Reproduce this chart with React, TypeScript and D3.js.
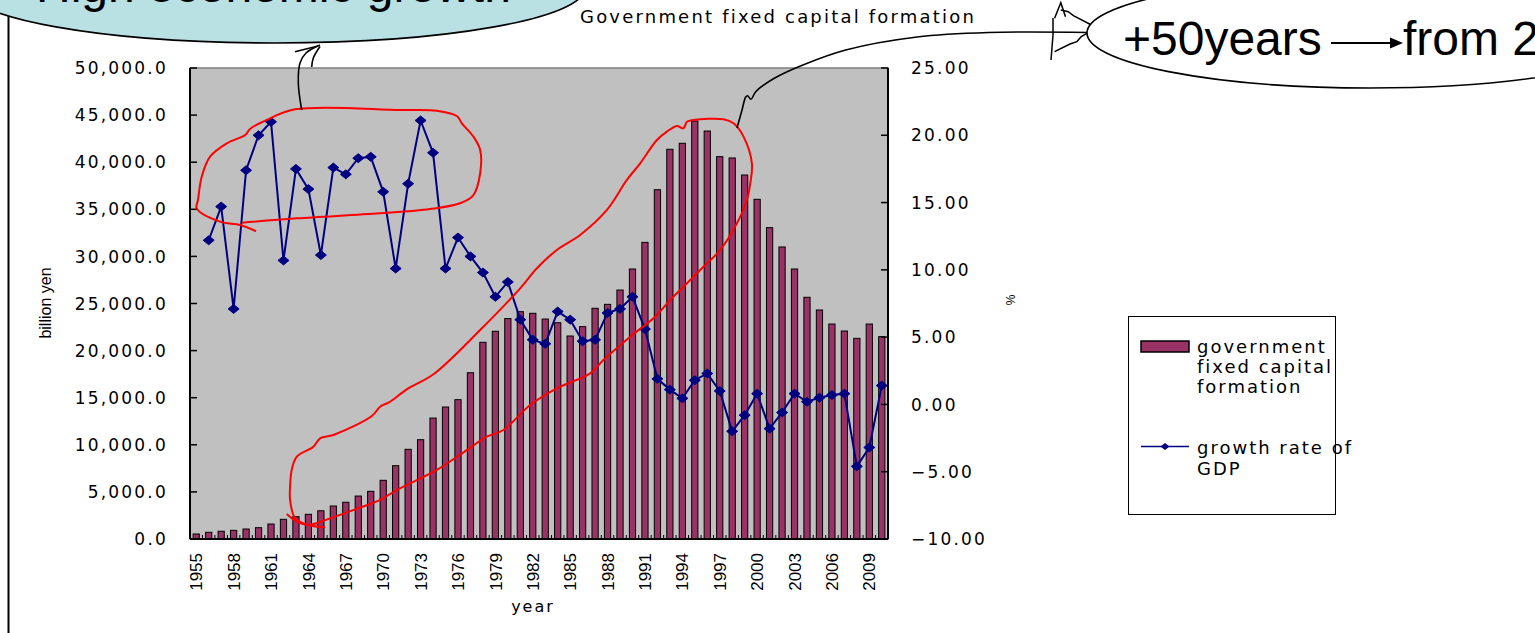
import React from 'react';
import * as d3 from 'd3';

// ---------------- data ----------------
const YEARS = [
  1955, 1956, 1957, 1958, 1959, 1960, 1961, 1962, 1963, 1964,
  1965, 1966, 1967, 1968, 1969, 1970, 1971, 1972, 1973, 1974,
  1975, 1976, 1977, 1978, 1979, 1980, 1981, 1982, 1983, 1984,
  1985, 1986, 1987, 1988, 1989, 1990, 1991, 1992, 1993, 1994,
  1995, 1996, 1997, 1998, 1999, 2000, 2001, 2002, 2003, 2004,
  2005, 2006, 2007, 2008, 2009, 2010,
];

// government fixed capital formation, billion yen
const GOV_FIXED_CAPITAL = [
  530, 710, 820, 920, 1060, 1200, 1590, 2090, 2370, 2620,
  3000, 3500, 3900, 4560, 5060, 6230, 7780, 9520, 10540, 12840,
  14010, 14790, 17650, 20880, 22050, 23400, 24130, 23960, 23350, 22960,
  21550, 22540, 24490, 24910, 26430, 28660, 31490, 37080, 41370, 42010,
  44370, 43310, 40590, 40450, 38640, 36060, 33050, 31000, 28660, 25660,
  24310, 22820, 22080, 21300, 22820, 21480,
];

// growth rate of GDP, %
const GDP_GROWTH: (number | null)[] = [
  null, 12.2, 14.7, 7.1, 17.4, 20.0, 21.0, 10.7, 17.5, 16.0,
  11.1, 17.6, 17.1, 18.3, 18.4, 15.8, 10.1, 16.4, 21.1, 18.7,
  10.1, 12.4, 11.0, 9.8, 8.0, 9.1, 6.3, 4.8, 4.5, 6.9,
  6.3, 4.7, 4.8, 6.8, 7.1, 8.0, 5.6, 1.9, 1.1, 0.45,
  1.8, 2.3, 1.0, -2.0, -0.8, 0.8, -1.8, -0.6, 0.8, 0.2,
  0.5, 0.7, 0.8, -4.6, -3.2, 1.4,
];

const LEFT_TICKS = [0, 5000, 10000, 15000, 20000, 25000, 30000, 35000, 40000, 45000, 50000];
const RIGHT_TICKS = [-10, -5, 0, 5, 10, 15, 20, 25];
const LABELED_YEARS = [1955, 1958, 1961, 1964, 1967, 1970, 1973, 1976, 1979, 1982, 1985, 1988, 1991, 1994, 1997, 2000, 2003, 2006, 2009];

const TITLE = 'Government fixed capital formation';
const LEGEND_BAR_LINES = ['government', 'fixed capital', 'formation'];
const LEGEND_LINE_LINES = ['growth rate of', 'GDP'];

// hand-drawn red outlines, in data coordinates [year, % on right axis]
const LOOP_HIGH_GROWTH: [number, number][] = [
  [1958.65, 13.5], [1963.07, 13.83], [1969.75, 14.2], [1973.76, 14.52], [1976.17, 14.95],
  [1977.24, 15.56], [1977.78, 17.18], [1977.78, 18.91], [1977.24, 19.9], [1976.31, 20.89],
  [1975.91, 21.43], [1974.3, 21.83], [1971.36, 21.88], [1962.93, 21.93], [1960.66, 21.14],
  [1959.32, 20.47], [1958.92, 20.02], [1957.45, 19.4], [1956.11, 18.41], [1955.44, 16.92],
  [1955.14, 15.19], [1955.04, 14.57], [1956.91, 13.58], [1958.52, 13.33], [1959.8, 12.87],
];
const LOOP_PUBLIC_WORKS: [number, number][] = [
  [1965.34, -9.13], [1964.0, -8.96], [1962.93, -8.44], [1962.53, -7.1], [1962.53, -6.11],
  [1962.66, -4.87], [1963.07, -3.88], [1964.4, -3.14], [1964.94, -2.52], [1966.0, -2.27],
  [1969.09, -0.86], [1969.75, -0.17], [1970.55, 0.2], [1971.89, 1.12], [1974.03, 2.24],
  [1977.78, 5.53], [1980.99, 8.63], [1982.33, 10.12], [1983.93, 11.48], [1985.8, 12.59],
  [1987.95, 14.45], [1989.55, 16.68], [1990.62, 17.92], [1991.96, 19.65], [1992.76, 20.27],
  [1993.56, 20.69], [1994.09, 20.52], [1994.37, 21.01], [1994.9, 21.14], [1997.3, 21.19],
  [1998.11, 20.89], [1998.91, 19.9], [1999.58, 17.92], [1999.45, 16.43], [1999.18, 15.19],
  [1998.38, 13.46], [1997.04, 11.48], [1995.7, 10.23], [1994.09, 8.75], [1993.03, 7.76],
  [1991.82, 6.52], [1989.82, 5.03], [1987.67, 3.3], [1986.61, 2.31], [1983.93, 1.2],
  [1981.79, -0.04], [1979.65, -1.9], [1978.31, -2.4], [1976.71, -3.39], [1974.3, -4.87],
  [1971.09, -6.36], [1969.75, -7.1], [1967.61, -7.85], [1965.2, -8.64], [1964.0, -8.96],
  [1963.07, -8.71], [1962.26, -8.14],
];

// black hand-drawn callout strokes (page layout, px)
const TAIL_LEFT_A: [number, number][] = [[301.7, 110], [298.3, 83], [300, 63], [306, 53], [320, 45]];
const TAIL_LEFT_B: [number, number][] = [[311.7, 67], [313.3, 58], [320, 46.5]];
const TAIL_LEFT_TICK: [number, number][] = [[295, 51.7], [318, 46]];
const TAIL_RIGHT: [number, number][] = [
  [737, 128], [742, 110], [745.7, 97], [747.5, 95.7], [751, 99.3], [755.7, 91.7],
  [774.3, 78.3], [802.9, 65], [845.7, 50], [917, 37], [988.6, 32.5], [1088.6, 32.5],
];
const SKETCH_STROKES: [number, number][][] = [
  [[1051, 60], [1053, 35], [1053, 18]],
  [[1054.6, 18.3], [1060.8, 2.7], [1065.5, 16.7]],
  [[1060.8, 10], [1068.3, 11.7], [1073.4, 15.7], [1091.5, 25]],
  [[1054.6, 51.7], [1070, 44], [1076.8, 41.7], [1081.2, 36.7], [1088.7, 32.3]],
];

// ---------------- layout ----------------
const W = 1535;
const H = 633;
const PLOT = { left: 190, right: 888, top: 68, bottom: 539 };
const GOTHIC = "'DejaVu Sans', sans-serif";
const ARIAL = "'Liberation Sans', Arial, sans-serif";
const BAR_FILL = '#993366';
const LINE_COLOR = '#000080';
const PLOT_BG = '#c0c0c0';

const diamond = (hw: number, hh: number) => `M0,${-hh}L${hw},0L0,${hh}L${-hw},0Z`;

export default function App() {
  const x = d3.scaleBand<number>().domain(YEARS).range([PLOT.left, PLOT.right]).padding(0);
  const bw = x.bandwidth();
  const xYear = d3
    .scaleLinear()
    .domain([YEARS[0], YEARS[YEARS.length - 1]])
    .range([(x(YEARS[0]) as number) + bw / 2, (x(YEARS[YEARS.length - 1]) as number) + bw / 2]);
  const yLeft = d3.scaleLinear().domain([0, 50000]).range([PLOT.bottom, PLOT.top]);
  const yRight = d3.scaleLinear().domain([-10, 25]).range([PLOT.bottom, PLOT.top]);

  const fmtLeft = d3.format(',.1f');
  const fmtRight = d3.format('.2f');

  const gdpPoints = YEARS.map((yr, i) => ({ yr, v: GDP_GROWTH[i] }));
  const gdpLine = d3
    .line<{ yr: number; v: number | null }>()
    .defined((d) => d.v != null)
    .x((d) => (x(d.yr) as number) + bw / 2)
    .y((d) => yRight(d.v as number));

  const loopLine = d3
    .line<[number, number]>()
    .x((d) => xYear(d[0]))
    .y((d) => yRight(d[1]))
    .curve(d3.curveCatmullRom.alpha(0.5));

  const pxLine = d3
    .line<[number, number]>()
    .x((d) => d[0])
    .y((d) => d[1])
    .curve(d3.curveCatmullRom.alpha(0.5));
  const pxPoly = d3.line<[number, number]>().x((d) => d[0]).y((d) => d[1]);

  const barW = bw * 0.5;

  return (
    <svg
      width={W}
      height={H}
      viewBox={`0 0 ${W} ${H}`}
      style={{ position: 'absolute', left: 0, top: 0, display: 'block', background: '#fff' }}
    >
      <rect x={0} y={0} width={W} height={H} fill="#fff" />

      {/* outer frame left edge */}
      <line x1={8.5} y1={5} x2={8.5} y2={H} stroke="#000" strokeWidth={2} />

      {/* left speech bubble */}
      <path d={pxLine(TAIL_LEFT_B) as string} fill="none" stroke="#000" strokeWidth={1.6} />
      <ellipse cx={275} cy={-12} rx={310} ry={55} fill="#b9e0e3" stroke="#000" strokeWidth={1.6} />
      <text x={36} y={2} fontFamily={ARIAL} fontSize={48} fill="#000">
        High economic growth
      </text>

      {/* title */}
      <text x={580} y={23} fontFamily={GOTHIC} fontSize={18} letterSpacing={2.2} fill="#000">
        {TITLE}
      </text>

      {/* plot area */}
      <rect
        x={PLOT.left}
        y={PLOT.top}
        width={PLOT.right - PLOT.left}
        height={PLOT.bottom - PLOT.top}
        fill={PLOT_BG}
        stroke="#808080"
        strokeWidth={1.5}
      />

      {/* bars */}
      {YEARS.map((yr, i) => {
        const cx = (x(yr) as number) + bw / 2;
        const y0 = yLeft(GOV_FIXED_CAPITAL[i]);
        return (
          <rect
            key={yr}
            x={cx - barW / 2}
            y={y0}
            width={barW}
            height={PLOT.bottom - y0}
            fill={BAR_FILL}
            stroke="#000"
            strokeWidth={1}
          />
        );
      })}

      {/* axes */}
      <line x1={PLOT.left} y1={PLOT.top} x2={PLOT.left} y2={PLOT.bottom} stroke="#000" strokeWidth={2} />
      <line x1={PLOT.right} y1={PLOT.top} x2={PLOT.right} y2={PLOT.bottom} stroke="#000" strokeWidth={2} />
      <line x1={PLOT.left} y1={PLOT.bottom} x2={PLOT.right} y2={PLOT.bottom} stroke="#000" strokeWidth={2} />
      {LEFT_TICKS.map((t) => (
        <line key={'lt' + t} x1={PLOT.left} x2={PLOT.left + 7} y1={yLeft(t)} y2={yLeft(t)} stroke="#000" strokeWidth={1.5} />
      ))}
      {RIGHT_TICKS.map((t) => (
        <line key={'rt' + t} x1={PLOT.right - 7} x2={PLOT.right} y1={yRight(t)} y2={yRight(t)} stroke="#000" strokeWidth={1.5} />
      ))}
      {YEARS.map((yr) => (
        <line
          key={'xt' + yr}
          x1={x(yr) as number}
          x2={x(yr) as number}
          y1={PLOT.bottom - 4}
          y2={PLOT.bottom}
          stroke="#000"
          strokeWidth={1}
        />
      ))}

      {/* tick labels */}
      {LEFT_TICKS.map((t) => (
        <text
          key={'ll' + t}
          x={168}
          y={yLeft(t)}
          dy="0.36em"
          textAnchor="end"
          fontFamily={GOTHIC}
          fontSize={17}
          letterSpacing={2.2}
          fill="#000"
        >
          {fmtLeft(t)}
        </text>
      ))}
      {RIGHT_TICKS.map((t) => (
        <text
          key={'rl' + t}
          x={911}
          y={yRight(t)}
          dy="0.36em"
          textAnchor="start"
          fontFamily={GOTHIC}
          fontSize={17}
          letterSpacing={2.2}
          fill="#000"
        >
          {fmtRight(t)}
        </text>
      ))}
      {LABELED_YEARS.map((yr) => (
        <text
          key={'xl' + yr}
          transform={`translate(${(x(yr) as number) + bw / 2},${553}) rotate(-90)`}
          dy="0.36em"
          textAnchor="end"
          fontFamily={ARIAL}
          fontSize={17}
          fill="#000"
        >
          {yr}
        </text>
      ))}

      {/* axis titles */}
      <text transform="translate(45,303) rotate(-90)" dy="0.36em" textAnchor="middle" fontFamily={ARIAL} fontSize={16} fill="#000">
        billion yen
      </text>
      <text transform="translate(1011,300) rotate(-90)" dy="0.36em" textAnchor="middle" fontFamily={ARIAL} fontSize={12} fill="#000">
        %
      </text>
      <text x={533} y={612} textAnchor="middle" fontFamily={GOTHIC} fontSize={16} letterSpacing={2} fill="#000">
        year
      </text>

      {/* GDP growth line */}
      <path d={gdpLine(gdpPoints) as string} fill="none" stroke={LINE_COLOR} strokeWidth={2} />
      {gdpPoints
        .filter((d) => d.v != null)
        .map((d) => (
          <path
            key={'m' + d.yr}
            d={diamond(5.5, 4.5)}
            transform={`translate(${(x(d.yr) as number) + bw / 2},${yRight(d.v as number)})`}
            fill={LINE_COLOR}
            stroke={LINE_COLOR}
            strokeWidth={1}
          />
        ))}

      {/* red hand-drawn outlines */}
      <path d={loopLine(LOOP_HIGH_GROWTH) as string} fill="none" stroke="#ff0000" strokeWidth={2} />
      <path d={loopLine(LOOP_PUBLIC_WORKS) as string} fill="none" stroke="#ff0000" strokeWidth={2} />

      {/* black callout strokes */}
      <path d={pxLine(TAIL_LEFT_A) as string} fill="none" stroke="#000" strokeWidth={1.6} />
      <path d={pxPoly(TAIL_LEFT_TICK) as string} fill="none" stroke="#000" strokeWidth={1.6} />
      <path d={pxLine(TAIL_RIGHT) as string} fill="none" stroke="#000" strokeWidth={1.6} />
      {SKETCH_STROKES.map((s, i) => (
        <path key={'sk' + i} d={pxPoly(s) as string} fill="none" stroke="#000" strokeWidth={1.5} />
      ))}

      {/* right speech bubble */}
      <ellipse cx={1370} cy={33} rx={283} ry={55} fill="#fff" stroke="#000" strokeWidth={1.6} />
      <text x={1123} y={55} fontFamily={ARIAL} fontSize={48} fill="#000">
        +50years
      </text>
      <line x1={1331} y1={43} x2={1393} y2={43} stroke="#000" strokeWidth={2} />
      <path d="M1403,43L1390,37.5L1390,48.5Z" fill="#000" />
      <text x={1403} y={55} fontFamily={ARIAL} fontSize={48} fill="#000">
        from 2
      </text>

      {/* legend */}
      <rect x={1128.5} y={316.5} width={207} height={198} fill="#fff" stroke="#000" strokeWidth={1} />
      <rect x={1141} y={341} width={48} height={11} fill={BAR_FILL} stroke="#000" strokeWidth={1.5} />
      {LEGEND_BAR_LINES.map((s, i) => (
        <text key={'lb' + i} x={1197} y={353 + i * 20} fontFamily={GOTHIC} fontSize={18} letterSpacing={2} fill="#000">
          {s}
        </text>
      ))}
      <line x1={1141} y1={446.5} x2={1189} y2={446.5} stroke={LINE_COLOR} strokeWidth={1.5} />
      <path d={diamond(4.5, 3.5)} transform="translate(1165,446.5)" fill={LINE_COLOR} />
      {LEGEND_LINE_LINES.map((s, i) => (
        <text key={'ll2' + i} x={1197} y={454 + i * 21} fontFamily={GOTHIC} fontSize={18} letterSpacing={2} fill="#000">
          {s}
        </text>
      ))}
    </svg>
  );
}
